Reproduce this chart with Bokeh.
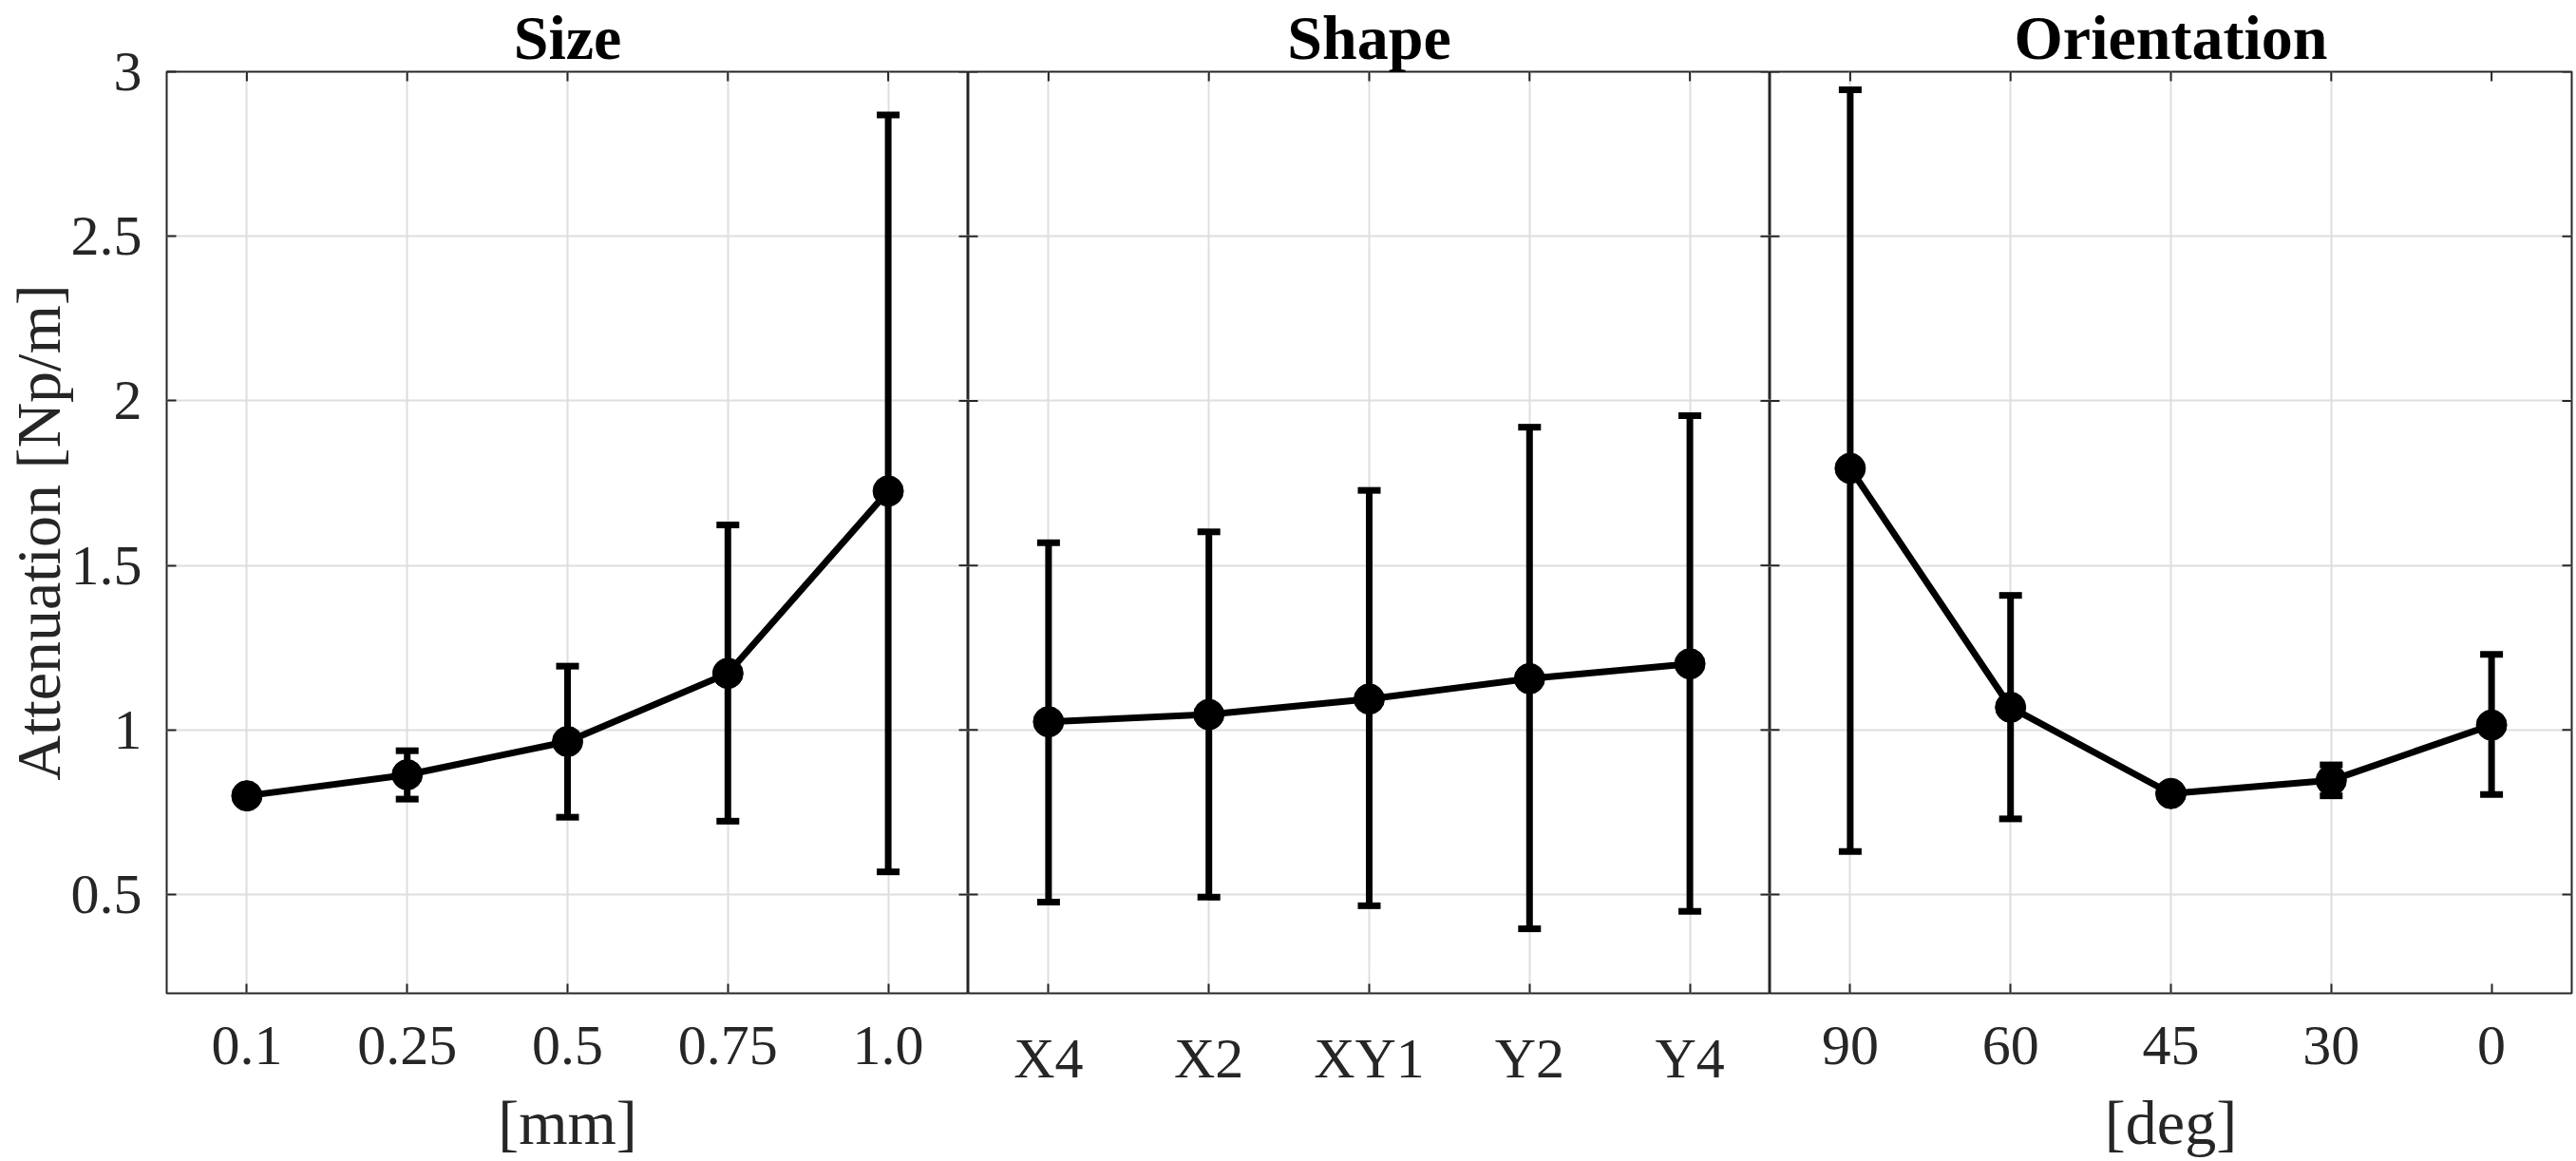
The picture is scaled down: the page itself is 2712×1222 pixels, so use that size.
import math
from bokeh.plotting import figure
from bokeh.layouts import row
from bokeh.models import (ColumnDataSource, Whisker, TeeHead, FixedTicker,
                          Range1d, FactorRange)
from bokeh.embed import file_html
from bokeh.resources import INLINE

# ---------------- data ----------------
SIZE_CATS = ["0.1", "0.25", "0.5", "0.75", "1.0"]
SIZE_MEAN = [0.800, 0.864, 0.965, 1.172, 1.726]
SIZE_LO = [0.790, 0.790, 0.735, 0.723, 0.569]
SIZE_HI = [0.810, 0.937, 1.194, 1.623, 2.869]

SHAPE_CATS = ["X4", "X2", "XY1", "Y2", "Y4"]
SHAPE_MEAN = [1.025, 1.047, 1.094, 1.156, 1.201]
SHAPE_LO = [0.477, 0.492, 0.466, 0.396, 0.449]
SHAPE_HI = [1.569, 1.602, 1.728, 1.920, 1.955]

ORIENT_CATS = ["90", "60", "45", "30", "0"]
ORIENT_MEAN = [1.795, 1.069, 0.807, 0.847, 1.015]
ORIENT_LO = [0.631, 0.730, 0.797, 0.800, 0.804]
ORIENT_HI = [2.945, 1.409, 0.817, 0.894, 1.230]

TITLES = ["Size", "Shape", "Orientation"]
X_LABELS = ["[mm]", None, "[deg]"]
Y_LABEL = "Attenuation [Np/m]"

Y_TICKS = [0.5, 1.0, 1.5, 2.0, 2.5, 3.0]
Y_TICK_LABELS = ["0.5", "1", "1.5", "2", "2.5", "3"]
Y_MIN, Y_MAX = 0.2, 3.0

# ---------------- style ----------------
FONT = "Liberation Serif"
INK = "#262626"
GRID = "#dedede"
TICK_FS = "60px"
XLABEL_FS = "66px"
YLABEL_FS = "66px"
TITLE_FS = "66px"
TICK_LEN = 10

HEIGHT = 1222
TOP = 60
BOTTOM = 177
LEFT = 175
FW = 844


def style_tick_axis(ax):
    ax.axis_line_color = None
    ax.major_tick_in = TICK_LEN
    ax.major_tick_out = 0
    ax.minor_tick_in = 0
    ax.minor_tick_out = 0
    ax.major_tick_line_color = INK
    ax.major_tick_line_width = 2
    ax.major_label_text_font = FONT
    ax.major_label_text_font_size = TICK_FS
    ax.major_label_text_color = INK
    ax.major_label_text_line_height = 1.0


def style_axis_label(ax, text, size, standoff):
    ax.axis_label = text
    ax.axis_label_text_font = FONT
    ax.axis_label_text_font_size = size
    ax.axis_label_text_font_style = "normal"
    ax.axis_label_text_color = INK
    ax.axis_label_text_line_height = 1.0
    ax.axis_label_standoff = standoff


def panel(cats, mean, lo, hi, title, xlabel, ylabel, width, left, right):
    n = len(cats)
    p = figure(x_range=FactorRange(factors=cats), y_range=Range1d(Y_MIN, Y_MAX),
               width=width, height=HEIGHT,
               min_border_left=left, min_border_right=right,
               min_border_top=TOP, min_border_bottom=BOTTOM,
               output_backend="svg", toolbar_location=None)
    p.background_fill_color = "white"
    p.border_fill_color = "white"
    p.outline_line_color = INK
    p.outline_line_width = 2

    # panel title
    p.title.text = title
    p.title.align = "center"
    p.title.text_font = FONT
    p.title.text_font_size = TITLE_FS
    p.title.text_font_style = "bold"
    p.title.text_color = "black"
    p.title.text_line_height = 1.0
    p.title.standoff = 0

    yt = FixedTicker(ticks=Y_TICKS, minor_ticks=[])

    # left axis: labelled on the first panel only
    ax = p.left[0]
    ax.ticker = yt
    style_tick_axis(ax)
    if ylabel:
        ax.major_label_overrides = dict(zip(Y_TICKS, Y_TICK_LABELS))
        ax.major_label_standoff = 26
        style_axis_label(ax, ylabel, YLABEL_FS, -5)
    else:
        ax.visible = False

    # bottom axis
    bax = p.below[0]
    style_tick_axis(bax)
    bax.major_label_standoff = 35
    if xlabel:
        style_axis_label(bax, xlabel, XLABEL_FS, 22)

    # grids
    p.ygrid.ticker = yt
    for g in (p.xgrid, p.ygrid):
        g.grid_line_color = GRID
        g.grid_line_width = 2

    # inward tick marks on the other frame edges (dashes centred on the edge,
    # the outer half is clipped away by the frame)
    edge_x = [n] * len(Y_TICKS) if ylabel else [0] * len(Y_TICKS) + [n] * len(Y_TICKS)
    edge_y = Y_TICKS if ylabel else Y_TICKS * 2
    p.scatter(edge_x, edge_y, marker="dash", size=2 * TICK_LEN,
              line_color=INK, line_width=2)
    p.scatter(cats, [Y_MAX] * n, marker="dash", angle=math.pi / 2, size=2 * TICK_LEN,
              line_color=INK, line_width=2)

    src = ColumnDataSource(dict(x=cats, y=mean, lo=lo, hi=hi))
    p.add_layout(Whisker(source=src, base="x", upper="hi", lower="lo",
                         dimension="height", line_color="black", line_width=7,
                         upper_head=TeeHead(size=24, line_width=7, line_color="black"),
                         lower_head=TeeHead(size=24, line_width=7, line_color="black")))
    p.line("x", "y", source=src, line_color="black", line_width=7, line_join="round")
    p.scatter("x", "y", source=src, size=32, fill_color="black", line_color="black")
    return p


p1 = panel(SIZE_CATS, SIZE_MEAN, SIZE_LO, SIZE_HI, TITLES[0], X_LABELS[0], Y_LABEL,
           LEFT + FW, LEFT, 0)
p2 = panel(SHAPE_CATS, SHAPE_MEAN, SHAPE_LO, SHAPE_HI, TITLES[1], X_LABELS[1], None,
           FW, 0, 0)
p3 = panel(ORIENT_CATS, ORIENT_MEAN, ORIENT_LO, ORIENT_HI, TITLES[2], X_LABELS[2], None,
           FW + 3, 0, 3)

layout = row(p1, p2, p3)
open("out.html", "w").write(file_html(layout, INLINE))
